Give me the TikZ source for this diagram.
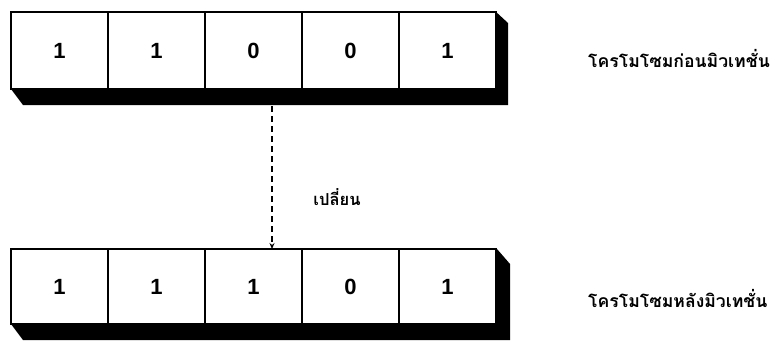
\documentclass[tikz,border=0pt]{standalone}
\usepackage{fontspec}
\setmainfont{Liberation Sans}
\newfontfamily\thaifont[Script=Thai]{Loma}
\usetikzlibrary{arrows.meta}
\begin{document}
\begin{tikzpicture}[x=1pt,y=-1pt,
  cellbox/.style={draw=black, line width=1.6pt, fill=white, minimum width=97pt, minimum height=77pt, inner sep=0pt, outer sep=0pt, font=\fontsize{22}{24}\selectfont\bfseries},
  shadowfill/.style={fill=black},
  thailabel/.style={font=\thaifont\bfseries\fontsize{17.6}{20}\selectfont, inner sep=0pt},
  changelabel/.style={font=\thaifont\bfseries\fontsize{16.5}{19}\selectfont, inner sep=0pt}]
\useasboundingbox (0,0) rectangle (778,340);
% top chromosome shadow
\fill[shadowfill] (11,89) -- (23,105) -- (508,105) -- (508,23) -- (495,11) -- (495,89) -- cycle;
% top chromosome cells
\node[cellbox, anchor=north west] (a1) at (11,12) {1};
\node[cellbox, anchor=west] (a2) at (a1.east) {1};
\node[cellbox, anchor=west] (a3) at (a2.east) {0};
\node[cellbox, anchor=west] (a4) at (a3.east) {0};
\node[cellbox, anchor=west] (a5) at (a4.east) {1};
% bottom chromosome shadow
\fill[shadowfill] (11,324) -- (23,340) -- (510,340) -- (510,264) -- (497,249) -- (497,324) -- cycle;
\node[cellbox, anchor=north west, minimum height=75pt] (b1) at (11,249) {1};
\node[cellbox, anchor=west, minimum height=75pt] (b2) at (b1.east) {1};
\node[cellbox, anchor=west, minimum height=75pt] (b3) at (b2.east) {1};
\node[cellbox, anchor=west, minimum height=75pt] (b4) at (b3.east) {0};
\node[cellbox, anchor=west, minimum height=75pt] (b5) at (b4.east) {1};
% arrow
\coordinate (s) at (272,106);
\coordinate (e) at (272,249);
\draw[line width=1.8pt, dash pattern=on 6pt off 4pt, -{Stealth[length=6pt,width=5pt]}] (s) -- (e);
\node[changelabel] (chg) at (337,197) {เปลี่ยน};
% labels
\node[thailabel, anchor=west] (lt) at (588,58) {โครโมโซมก่อนมิวเทชั่น};
\node[thailabel, anchor=west] (lb) at (588,298) {โครโมโซมหลังมิวเทชั่น};
\end{tikzpicture}
\end{document}
